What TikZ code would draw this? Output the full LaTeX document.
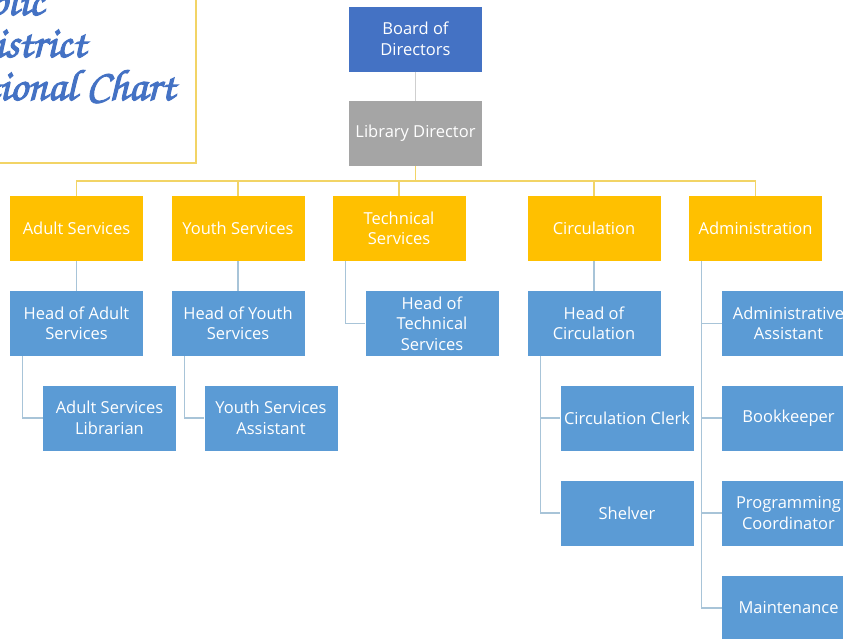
\documentclass[tikz,border=0pt]{standalone}
\usepackage{fontspec}
\setmainfont{Open Sans}
\newfontfamily\chancery[FakeBold=2.5]{TeX Gyre Chorus}
\definecolor{bodblue}{HTML}{4472C4}
\definecolor{dirgray}{HTML}{A5A5A5}
\definecolor{gold}{HTML}{FFC000}
\definecolor{staffblue}{HTML}{5B9BD5}
\definecolor{connblue}{HTML}{A8C4D8}
\definecolor{busyellow}{HTML}{F2D466}
\definecolor{topgray}{HTML}{CFCFCF}
\definecolor{titleblue}{HTML}{4472C4}
\begin{document}
\begin{tikzpicture}[x=1pt,y=-1pt,
  box/.style={rectangle, minimum width=133pt, minimum height=65pt, inner sep=0pt,
    align=center, text=white, font=\fontsize{16.5}{20.5}\selectfont},
  topbox/.style={box, fill=bodblue},
  dirbox/.style={box, fill=dirgray},
  deptbox/.style={box, fill=gold},
  staffbox/.style={box, fill=staffblue},
  conn/.style={draw=connblue, line width=1.3pt},
  bus/.style={draw=busyellow, line width=1.5pt},
  topconn/.style={draw=topgray, line width=1.5pt},
  titletext/.style={anchor=base east, inner sep=0pt, text=titleblue,
    font=\chancery\fontsize{44}{46}\selectfont}]
\useasboundingbox (0,0) rectangle (843,638);
\clip (0,0) rectangle (843,638);
% title panel
\draw[draw=busyellow, line width=1.2pt, fill=white] (-5,-5) rectangle (196,163);
\node[titletext] (t1) at (44,15) {Public};
\node[titletext] (t2) at (86,57) {Library District};
\node[titletext] (t3) at (175,100) {Organizational Chart};
% top
\node[topbox] (bod) at (415.5,39) {Board of\\Directors};
\node[dirbox] (lib) at (415.5,133.5) {Library Director};
% departments
\node[deptbox] (adult) at (76.5,228.5) {Adult Services};
\node[deptbox] (youth) at (238,228.5) {Youth Services};
\node[deptbox] (tech) at (399,228.5) {Technical\\Services};
\node[deptbox] (circ) at (594,228.5) {Circulation};
\node[deptbox] (admin) at (755.5,228.5) {Administration};
% level 2
\node[staffbox] (hadult) at (76.5,323.5) {Head of Adult\\Services};
\node[staffbox] (hyouth) at (238,323.5) {Head of Youth\\Services};
\node[staffbox] (htech) at (432,323.5) {Head of\\Technical\\Services};
\node[staffbox] (hcirc) at (594,323.5) {Head of\\Circulation};
\node[staffbox] (aasst) at (788.5,323.5) {Administrative\\Assistant};
% level 3
\node[staffbox] (alib) at (109.5,418) {Adult Services\\Librarian};
\node[staffbox] (yasst) at (271,418) {Youth Services\\Assistant};
\node[staffbox] (clerk) at (627,418) {Circulation Clerk};
\node[staffbox] (bkeep) at (788.5,418) {Bookkeeper};
% level 4
\node[staffbox] (shelv) at (627,513) {Shelver};
\node[staffbox] (prog) at (788.5,513) {Programming\\Coordinator};
% level 5
\node[staffbox] (maint) at (788.5,608) {Maintenance};
% connectors
\draw[topconn] (bod.south) -- (lib.north);
\coordinate (hub) at (415.5,181);
\draw[bus] (lib.south) -- (hub);
\foreach \d in {adult,youth,tech,circ,admin}{
  \draw[bus] (hub) -| (\d.north);
}
\draw[conn] (adult.south) -- (hadult.north);
\draw[conn] (youth.south) -- (hyouth.north);
\draw[conn] (circ.south) -- (hcirc.north);
\draw[conn] ([xshift=13pt]tech.south west) |- (htech.west);
\draw[conn] ([xshift=13pt]hadult.south west) |- (alib.west);
\draw[conn] ([xshift=13pt]hyouth.south west) |- (yasst.west);
\draw[conn] ([xshift=13pt]hcirc.south west) |- (clerk.west);
\draw[conn] ([xshift=13pt]hcirc.south west) |- (shelv.west);
\foreach \s in {aasst,bkeep,prog,maint}{
  \draw[conn] ([xshift=13pt]admin.south west) |- (\s.west);
}
\end{tikzpicture}
\end{document}
